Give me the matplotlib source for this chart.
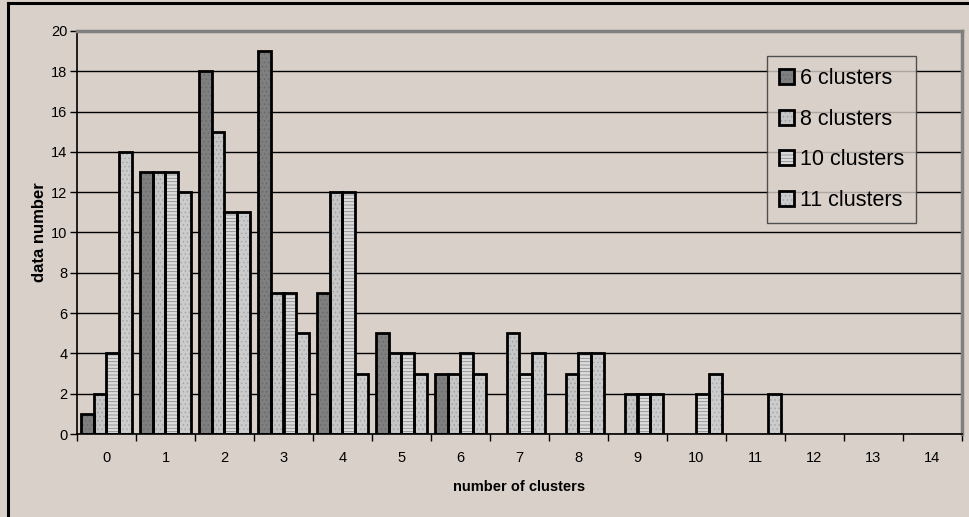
import numpy as np
import matplotlib
matplotlib.use("Agg")
import matplotlib.pyplot as plt
from matplotlib.patches import Patch
from matplotlib.lines import Line2D
from matplotlib.legend_handler import HandlerTuple

plt.rcParams['font.family'] = ['Liberation Sans', 'DejaVu Sans']
plt.rcParams['hatch.linewidth'] = 0.6

categories = list(range(15))
series_names = ['6 clusters', '8 clusters', '10 clusters', '11 clusters']
c6 = [1, 13, 18, 19, 7, 5, 3, 0, 0, 0, 0, 0, 0, 0, 0]
c8 = [2, 13, 15, 7, 12, 4, 3, 5, 3, 2, 0, 0, 0, 0, 0]
c10 = [4, 13, 11, 7, 12, 4, 4, 3, 4, 2, 2, 0, 0, 0, 0]
c11 = [14, 12, 11, 5, 3, 3, 3, 4, 4, 2, 3, 2, 0, 0, 0]
yticks = list(range(0, 21, 2))

bg = '#D9D0C9'
# face colour, hatch pattern, hatch colour per series
styles = [('#7F7F7F', '....', '#6A6A6A'),
          ('#C6C6C6', '....', '#A0A0A0'),
          ('#DCDCDC', '-----', '#8C8C8C'),
          ('#CCCCCC', '....', '#A8A8A8')]

fig = plt.figure(figsize=(9.7, 5.17), dpi=100, facecolor=bg)
ax = fig.add_axes([77 / 970, 1 - 434 / 517, 885 / 970, 403 / 517])
ax.set_facecolor(bg)

x = np.array(categories, dtype=float)
w = 0.22
handles = []
for k, vals in enumerate([c6, c8, c10, c11]):
    vals = np.array(vals, dtype=float)
    keep = vals > 0
    pos = x[keep] + (k - 1.5) * w
    fc, hatch, hc = styles[k]
    ax.bar(pos, vals[keep], width=w, color=fc, hatch=hatch, edgecolor=hc,
           linewidth=0, zorder=3)
    ax.bar(pos, vals[keep], width=w, fill=False, edgecolor='black',
           linewidth=2, zorder=4)
    h1 = Patch(facecolor=fc, hatch=hatch, edgecolor=hc, linewidth=0)
    h2 = Patch(fill=False, edgecolor='black', linewidth=2)
    handles.append((h1, h2))

ax.set_xlim(-0.5, 14.5)
ax.set_ylim(0, 20)
ax.set_yticks(yticks)
ax.yaxis.grid(True, color='black', linewidth=1)
ax.set_axisbelow(True)

ax.set_xticks(categories)
ax.set_xticklabels([str(c) for c in categories])
ax.set_xticks(np.arange(-0.5, 15, 1), minor=True)
ax.tick_params(axis='x', which='major', length=0, pad=12, labelsize=10.5)
ax.tick_params(axis='x', which='minor', length=5, width=1, direction='out')
ax.tick_params(axis='y', length=5, width=1, direction='out', pad=2, labelsize=10.5)

for side in ['left', 'bottom']:
    ax.spines[side].set_color('black')
    ax.spines[side].set_linewidth(1.2)
for side in ['top', 'right']:
    ax.spines[side].set_color('#808080')
    ax.spines[side].set_linewidth(2.5)
ax.spines['bottom'].set_zorder(5)

ax.set_xlabel('number of clusters', fontsize=10.5, fontweight='bold', labelpad=11)
ax.set_ylabel('data number', fontsize=12, fontweight='bold', labelpad=3)

leg = ax.legend(handles, series_names, handler_map={tuple: HandlerTuple(ndivide=1)},
                loc='upper left', bbox_to_anchor=(767 / 970, 1 - 56 / 517),
                bbox_transform=fig.transFigure, fontsize=15.5, frameon=True,
                fancybox=False, handlelength=0.7, handleheight=0.7,
                handletextpad=0.3, labelspacing=0.92, borderpad=0.55,
                borderaxespad=0)
leg.get_frame().set_facecolor(bg)
leg.get_frame().set_edgecolor('#303030')
leg.get_frame().set_linewidth(1)
leg.set_zorder(6)

# outer chart frame (top and left edges)
fig.add_artist(Line2D([8 / 970, 1], [1 - 3 / 517, 1 - 3 / 517], color='black',
                      linewidth=2.2, transform=fig.transFigure))
fig.add_artist(Line2D([8 / 970, 8 / 970], [0, 1 - 3 / 517], color='black',
                      linewidth=2.2, transform=fig.transFigure))

fig.savefig('out.png', dpi=100, facecolor=bg)
